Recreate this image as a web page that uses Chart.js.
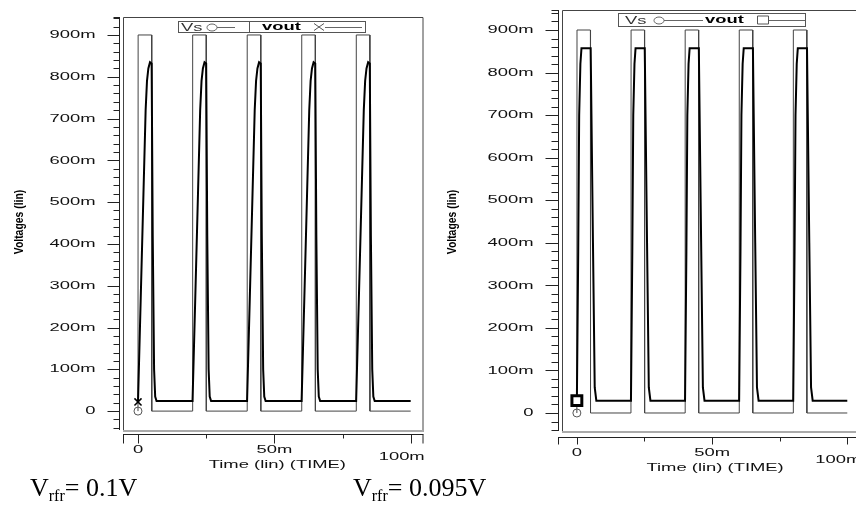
<!DOCTYPE html>
<html>
<head>
<meta charset="utf-8">
<script src="https://cdn.jsdelivr.net/npm/chart.js@4.4.1/dist/chart.umd.min.js"></script>
<style>
  html, body { margin: 0; padding: 0; background: #fff; }
  body { width: 856px; height: 506px; overflow: hidden; position: relative; }
  canvas { position: absolute; top: 0; }
  #left { left: 0; }
  #right { left: 430px; }
  .cap { position: absolute; top: 475px; font-family: "Liberation Serif", "Times New Roman", serif;
         font-size: 26px; line-height: 26px; color: #000; white-space: nowrap; }
  .cap span { font-size: 16px; position: relative; top: 5px; }
</style>
</head>
<body>
<canvas id="left" width="430" height="475"></canvas>
<canvas id="right" width="440" height="480"></canvas>
<div class="cap" id="capA" style="left:30px"></div>
<div class="cap" id="capB" style="left:353px"></div>
<script>
// time in ms, voltages in mV
const timeVs = [0, 0.05, 5, 5.05, 20, 20.05, 25, 25.05, 40, 40.05, 45, 45.05,
                60, 60.05, 65, 65.05, 80, 80.05, 85, 85.05, 100];
const levelVs = [0, 900, 900, 0, 0, 900, 900, 0, 0, 900, 900, 0,
                 0, 900, 900, 0, 0, 900, 900, 0, 0];

// vout, Vrfr = 0.1V
const timeOutA = [0, 1.0, 2.0, 2.8, 3.3, 3.8, 4.4, 5.0, 5.4, 5.9, 6.3, 6.8,
                  20, 21.0, 22.0, 22.8, 23.3, 23.8, 24.4, 25.0, 25.4, 25.9, 26.3, 26.8,
                  40, 41.0, 42.0, 42.8, 43.3, 43.8, 44.4, 45.0, 45.4, 45.9, 46.3, 46.8,
                  60, 61.0, 62.0, 62.8, 63.3, 63.8, 64.4, 65.0, 65.4, 65.9, 66.3, 66.8,
                  80, 81.0, 82.0, 82.8, 83.3, 83.8, 84.4, 85.0, 85.4, 85.9, 86.3, 86.8,
                  100];
const voutA = [22, 270, 520, 720, 790, 820, 835, 832, 420, 100, 35, 24,
               24, 270, 520, 720, 790, 820, 835, 832, 420, 100, 35, 24,
               24, 270, 520, 720, 790, 820, 835, 832, 420, 100, 35, 24,
               24, 270, 520, 720, 790, 820, 835, 832, 420, 100, 35, 24,
               24, 270, 520, 720, 790, 820, 835, 832, 420, 100, 35, 24,
               24];

// vout, Vrfr = 0.095V
const timeOutB = [0, 0.5, 0.85, 1.3, 1.7, 5.1, 5.95, 6.6, 7.2,
                  20, 20.5, 20.85, 21.3, 21.7, 25.1, 25.95, 26.6, 27.2,
                  40, 40.5, 40.85, 41.3, 41.7, 45.1, 45.95, 46.6, 47.2,
                  60, 60.5, 60.85, 61.3, 61.7, 65.1, 65.95, 66.6, 67.2,
                  80, 80.5, 80.85, 81.3, 81.7, 85.1, 85.95, 86.6, 87.2,
                  100];
const voutB = [29, 380, 700, 820, 857, 857, 400, 60, 29,
               29, 380, 700, 820, 857, 857, 400, 60, 29,
               29, 380, 700, 820, 857, 857, 400, 60, 29,
               29, 380, 700, 820, 857, 857, 400, 60, 29,
               29, 380, 700, 820, 857, 857, 400, 60, 29,
               29];

const yTickValues = [0, 100, 200, 300, 400, 500, 600, 700, 800, 900];
const yTickLabels = ['0', '100m', '200m', '300m', '400m', '500m', '600m', '700m', '800m', '900m'];
const xTickValues = [0, 50, 100];
const xTickLabels = ['0', '50m', '100m'];
const xMinorTicks = [25, 75];
const seriesNames = ['Vs', 'vout'];
const captions = ['0.1V', '0.095V'];

const SX = 1.6; // the plot text is stretched sideways
const TICK_FONT = '11.5px "Liberation Sans", Arial, sans-serif';
const BOLD_FONT = 'bold 11.5px "Liberation Sans", Arial, sans-serif';

function wideText(ctx, str, x, y, align, font, sx) {
  ctx.save();
  ctx.font = font;
  ctx.textBaseline = 'middle';
  ctx.textAlign = 'left';
  let w = ctx.measureText(str).width * sx;
  let x0 = align === 'right' ? x - w : align === 'center' ? x - w / 2 : x;
  ctx.translate(x0, y);
  ctx.scale(sx, 1);
  ctx.fillText(str, 0, 0);
  ctx.restore();
}

const spicePlot = {
  id: 'spicePlot',
  beforeDatasetsDraw(chart, args, o) {
    let { ctx, chartArea: a } = chart;
    ctx.save();
    ctx.strokeStyle = '#444';
    ctx.lineWidth = 1;
    ctx.beginPath();
    ctx.moveTo(a.left + 0.5, a.bottom);
    ctx.lineTo(a.left + 0.5, a.top + 0.5);
    ctx.lineTo(a.right - 0.5, a.top + 0.5);
    ctx.lineTo(a.right - 0.5, a.bottom);
    ctx.stroke();
    ctx.strokeStyle = '#aaa'; // bottom edge of the frame is a soft grey
    ctx.lineWidth = 2;
    ctx.beginPath();
    ctx.moveTo(a.left, a.bottom - 1);
    ctx.lineTo(a.right, a.bottom - 1);
    ctx.stroke();
    ctx.restore();
  },
  afterDraw(chart, args, o) {
    let { ctx, chartArea: a } = chart;
    let xs = chart.scales.x, ys = chart.scales.y;
    ctx.save();
    ctx.strokeStyle = '#222';
    ctx.fillStyle = '#111';
    ctx.lineWidth = 1;

    // y axis with major / minor ticks
    let ax = a.left - o.yGap + 0.5;
    ctx.beginPath();
    ctx.moveTo(ax, a.top);
    ctx.lineTo(ax, a.bottom - 2);
    for (let v = Math.ceil(ys.min / 20) * 20; v <= ys.max; v += 20) {
      let py = Math.round(ys.getPixelForValue(v)) + 0.5;
      let len = v % 100 === 0 ? o.yMajor : o.yMinor;
      ctx.moveTo(ax, py);
      ctx.lineTo(ax - len, py);
    }
    ctx.moveTo(ax, a.top + 0.5); ctx.lineTo(ax - o.yMinor, a.top + 0.5);
    ctx.stroke();
    yTickValues.forEach((v, i) => {
      wideText(ctx, yTickLabels[i], ax - o.yLabelGap, ys.getPixelForValue(v), 'right', TICK_FONT, SX);
    });

    // x axis
    let ay = a.bottom + o.xGap + 0.5;
    let x0 = a.left + o.xStart;
    ctx.beginPath();
    ctx.moveTo(x0, ay);
    ctx.lineTo(a.right, ay);
    [x0 + 0.5, a.right - 0.5].forEach(px => { ctx.moveTo(px, ay); ctx.lineTo(px, ay + o.xMajor); });
    xTickValues.forEach(v => {
      let px = Math.round(xs.getPixelForValue(v)) + 0.5;
      ctx.moveTo(px, ay); ctx.lineTo(px, ay + o.xMajor);
    });
    xMinorTicks.forEach(v => {
      let px = Math.round(xs.getPixelForValue(v)) + 0.5;
      ctx.moveTo(px, ay); ctx.lineTo(px, ay + o.xMinor);
    });
    ctx.stroke();
    xTickValues.forEach((v, i) => {
      let last = i === xTickValues.length - 1;
      let dy = o.xLabelDy + (last ? o.xLastDy : 0);
      let dx = last ? o.xLastDx : 0;
      wideText(ctx, xTickLabels[i], xs.getPixelForValue(v) + dx, ay + dy, 'center', TICK_FONT, SX);
    });
    wideText(ctx, 'Time (lin) (TIME)', xs.getPixelForValue(50) + 3, ay + o.xTitleDy, 'center', TICK_FONT, SX);

    // y title, narrow bold
    ctx.save();
    ctx.translate(o.yTitleX, o.yTitleY);
    ctx.rotate(-Math.PI / 2);
    ctx.scale(0.8, 1);
    ctx.font = 'bold 13px "Liberation Sans", Arial, sans-serif';
    ctx.textAlign = 'center';
    ctx.textBaseline = 'middle';
    ctx.fillStyle = '#000';
    ctx.fillText('Voltages (lin)', 0, 0);
    ctx.restore();

    // legend strip
    let L = o.legend;
    let cy = (L.box[1] + L.box[3]) / 2;
    ctx.strokeStyle = '#555';
    ctx.strokeRect(L.box[0] + 0.5, L.box[1] + 0.5, L.box[2] - L.box[0], L.box[3] - L.box[1]);
    if (L.divider) {
      ctx.beginPath();
      ctx.moveTo(L.divider + 0.5, L.box[1]); ctx.lineTo(L.divider + 0.5, L.box[3]);
      ctx.stroke();
    }
    ctx.fillStyle = '#333';
    wideText(ctx, seriesNames[0], L.vsText, cy + 1, 'left', TICK_FONT, SX);
    ctx.fillStyle = '#000';
    wideText(ctx, seriesNames[1], L.voutText, cy, 'left', BOLD_FONT, SX);
    ctx.strokeStyle = '#666';
    ctx.beginPath();
    ctx.ellipse(L.vsMark, cy + 1, 5, 3.5, 0, 0, Math.PI * 2);
    ctx.moveTo(L.vsLine[0], cy + 1); ctx.lineTo(L.vsLine[1], cy + 1);
    ctx.moveTo(L.voutLine[0], cy + 1); ctx.lineTo(L.voutLine[1], cy + 1);
    ctx.stroke();
    ctx.beginPath();
    ctx.strokeStyle = '#555';
    if (L.voutStyle === 'cross') {
      ctx.moveTo(L.voutMark - 5, cy - 3); ctx.lineTo(L.voutMark + 5, cy + 4);
      ctx.moveTo(L.voutMark - 5, cy + 4); ctx.lineTo(L.voutMark + 5, cy - 3);
    } else {
      ctx.rect(L.voutMark - 5.5, cy - 3.5, 11, 8);
    }
    ctx.stroke();
    ctx.restore();
  }
};

function points(t, v) {
  return t.map((x, i) => ({ x: x, y: v[i] }));
}

function makeChart(id, cfg) {
  return new Chart(document.getElementById(id), {
    type: 'scatter',
    data: {
      datasets: [{
        label: seriesNames[1],
        data: points(cfg.outTime, cfg.out),
        showLine: true,
        borderColor: '#000',
        borderWidth: 2,
        tension: 0,
        pointRadius: c => c.dataIndex === 0 ? cfg.markR : 0,
        pointStyle: cfg.markStyle,
        pointBorderColor: '#000',
        pointBackgroundColor: '#fff',
        pointBorderWidth: cfg.markW
      }, {
        label: seriesNames[0],
        data: points(timeVs, levelVs),
        showLine: true,
        borderColor: '#444',
        borderWidth: 1,
        tension: 0,
        pointRadius: c => c.dataIndex === 0 ? 4 : 0,
        pointStyle: 'circle',
        pointBorderColor: '#555',
        pointBackgroundColor: 'rgba(255,255,255,0)',
        pointBorderWidth: 1
      }]
    },
    options: {
      responsive: false,
      animation: false,
      events: [],
      layout: { padding: { left: 0, right: cfg.padRight, top: cfg.padTop, bottom: 0 } },
      plugins: {
        legend: { display: false },
        tooltip: { enabled: false },
        spicePlot: cfg.axes
      },
      scales: {
        x: {
          type: 'linear', min: -5.5, max: 104.7,
          ticks: { display: false }, grid: { display: false }, border: { display: false },
          afterFit: s => { s.height = cfg.xHeight; }
        },
        y: {
          type: 'linear', min: cfg.yMin, max: cfg.yMax,
          ticks: { display: false }, grid: { display: false }, border: { display: false },
          afterFit: s => { s.width = cfg.yWidth; }
        }
      }
    },
    plugins: [spicePlot]
  });
}

makeChart('left', {
  outTime: timeOutA, out: voutA,
  markStyle: 'crossRot', markR: 5, markW: 1.5,
  padRight: 6, padTop: 17, xHeight: 43, yWidth: 123,
  yMin: -50, yMax: 943,
  axes: {
    yGap: 4, yMajor: 12, yMinor: 6, yLabelGap: 24,
    xGap: 2, xStart: 0, xMajor: 9, xMinor: 4,
    xLabelDy: 15.5, xLastDy: 7, xLastDx: -9, xTitleDy: 30,
    yTitleX: 19, yTitleY: 222,
    legend: { box: [178, 21, 365, 32], divider: 249, vsText: 181, vsMark: 212, vsLine: [217, 235],
              voutText: 262, voutMark: 319, voutLine: [325, 362], voutStyle: 'cross' }
  }
});

makeChart('right', {
  outTime: timeOutB, out: voutB,
  markStyle: 'rect', markR: 7, markW: 3,
  padRight: 6, padTop: 9, xHeight: 47, yWidth: 132,
  yMin: -47, yMax: 947,
  axes: {
    yGap: 4, yMajor: 13, yMinor: 7, yLabelGap: 25,
    xGap: 4, xStart: -4, xMajor: 7, xMinor: 4,
    xLabelDy: 15.5, xLastDy: 7, xLastDx: -9, xTitleDy: 30.5,
    yTitleX: 22, yTitleY: 222,
    legend: { box: [188, 13, 375, 26], divider: null, vsText: 195, vsMark: 229, vsLine: [234, 273],
              voutText: 275, voutMark: 333, voutLine: [339, 375], voutStyle: 'rect' }
  }
});

document.getElementById('capA').innerHTML = 'V<span>rfr</span>= ' + captions[0];
document.getElementById('capB').innerHTML = 'V<span>rfr</span>= ' + captions[1];
</script>
</body>
</html>
